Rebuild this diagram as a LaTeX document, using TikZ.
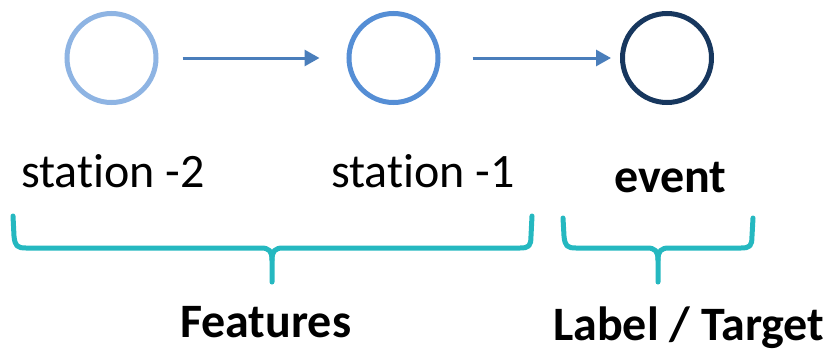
\documentclass[tikz,border=0pt]{standalone}
\usepackage{fontspec}
\setmainfont[Ligatures={NoCommon}]{Carlito}
\usetikzlibrary{arrows.meta}
\definecolor{cA}{HTML}{8EB4E3}
\definecolor{cB}{HTML}{558ED5}
\definecolor{cC}{HTML}{17375E}
\definecolor{arrc}{HTML}{4A7EBB}
\definecolor{brc}{HTML}{25B8C0}
\tikzset{
  ring/.style={circle, draw, line width=5pt, minimum size=89pt, inner sep=0pt},
  arr/.style={draw=arrc, line width=3pt, -{Triangle[length=15pt,width=16pt]}},
  brace/.style={draw=brc, line width=5pt, line cap=round, line join=round},
  lbl/.style={anchor=base west, inner sep=0pt, font=\fontsize{48}{57}\selectfont},
  blbl/.style={lbl, font=\fontsize{48}{57}\selectfont\bfseries}
}
\begin{document}
\begin{tikzpicture}[x=1pt,y=-1pt]
\useasboundingbox (0,0) rectangle (823,351);
\node[ring, draw=cA] (c1) at (111.5,58) {};
\node[ring, draw=cB] (c2) at (393.5,58) {};
\node[ring, draw=cC] (c3) at (667,58) {};
\draw[arr] ([xshift=24pt]c1.east) -- ([xshift=-27pt]c2.west);
\draw[arr] ([xshift=32pt]c2.east) -- ([xshift=-9pt]c3.west);
\node[lbl] (s2) at (21,187) {station -2};
\node[lbl] (s1) at (331,187) {station -1};
\node[blbl] (ev) at (614,192) {event};
\node[blbl] (feat) at (180,337) {Features};
\node[blbl] (tgt) at (553,340) {Label / Target};
% brace 1
\draw[brace] (13,216) -- (14,236) .. controls (15,246) and (17,248) .. (26,248) -- (261,248)
  .. controls (269,248) and (272,251) .. (272,260) -- (272,282);
\draw[brace] (272,260) .. controls (272,251) and (275,248) .. (283,248) -- (520,248)
  .. controls (529,248) and (531,246) .. (531,236) -- (532,216);
% brace 2
\draw[brace] (563,218) -- (564,236) .. controls (565,246) and (567,248) .. (576,248) -- (647,248)
  .. controls (655,248) and (658,251) .. (658,260) -- (658,282);
\draw[brace] (658,260) .. controls (658,251) and (661,248) .. (669,248) -- (741,248)
  .. controls (750,248) and (752,246) .. (752,236) -- (753,218);
\end{tikzpicture}
\end{document}
